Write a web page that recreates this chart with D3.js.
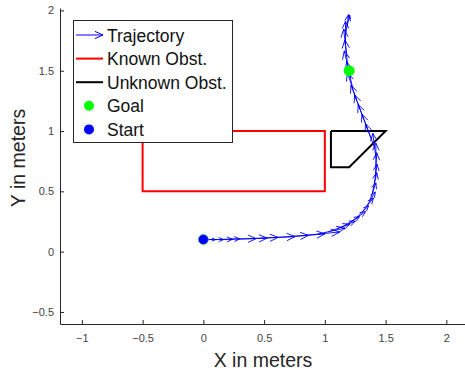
<!DOCTYPE html>
<html>
<head>
<meta charset="utf-8">
<script src="https://cdn.jsdelivr.net/npm/d3@7"></script>
<style>
  body { margin: 0; background: #fff; }
  text { font-family: "Liberation Sans", Arial, sans-serif; }
</style>
</head>
<body>
<svg id="chart"></svg>
<script>
// trajectory samples (meters)
const trajX = [0, 0.04, 0.09, 0.15, 0.21, 0.3, 0.39, 0.48, 0.59, 0.7, 0.82, 0.94,
               1.03, 1.1, 1.16, 1.21, 1.26, 1.3, 1.34, 1.37, 1.39, 1.405, 1.415, 1.42,
               1.42, 1.41, 1.38, 1.35, 1.32, 1.29, 1.26, 1.23, 1.21, 1.19, 1.18, 1.17,
               1.17, 1.18, 1.19];
const trajY = [0.1, 0.1, 0.1, 0.101, 0.103, 0.105, 0.108, 0.112, 0.117, 0.124, 0.133, 0.145,
               0.165, 0.19, 0.215, 0.245, 0.28, 0.32, 0.37, 0.42, 0.48, 0.55, 0.62, 0.7,
               0.78, 0.86, 0.94, 1.02, 1.1, 1.18, 1.26, 1.35, 1.44, 1.53, 1.62, 1.71,
               1.79, 1.86, 1.9];

const knownX = [-0.5, 1, 1, -0.5, -0.5];
const knownY = [1, 1, 0.5, 0.5, 1];
const unknownX = [1.05, 1.5, 1.2, 1.05, 1.05];
const unknownY = [1, 1, 0.7, 0.7, 1];

const goal = [1.2, 1.5];
const start = [0, 0.1];

const xTicks = [-1, -0.5, 0, 0.5, 1, 1.5, 2];
const yTicks = [-0.5, 0, 0.5, 1, 1.5, 2];
const legendLabels = ["Trajectory", "Known Obst.", "Unknown Obst.", "Goal", "Start"];

const w = 465, h = 373;
const svg = d3.select("#chart").attr("width", w).attr("height", h);

const x = d3.scaleLinear().domain([-1.18, 2.17]).range([60, 467]);
const y = d3.scaleLinear().domain([-0.6, 2.02]).range([324, 8]);

const axisColor = "#262626";

// axes (MATLAB style, ticks pointing inward)
const gx = svg.append("g")
              .attr("transform", "translate(0," + y(-0.6) + ")")
              .call(d3.axisBottom(x).tickValues(xTicks).tickSizeInner(-4).tickSizeOuter(0)
                      .tickPadding(10).tickFormat(d3.format("")));
const gy = svg.append("g")
              .attr("transform", "translate(" + x(-1.18) + ",0)")
              .call(d3.axisLeft(y).tickValues(yTicks).tickSizeInner(-4).tickSizeOuter(0)
                      .tickPadding(6).tickFormat(d3.format("")));
[gx, gy].forEach(g => {
  g.select(".domain").attr("stroke", axisColor);
  g.selectAll(".tick line").attr("stroke", axisColor);
  g.selectAll(".tick text")
   .attr("fill", "#444")
   .style("font-size", "11px")
   .style("font-family", "'Liberation Sans', Arial, sans-serif");
});

svg.append("text")
   .attr("x", 263).attr("y", 367)
   .attr("text-anchor", "middle")
   .attr("fill", axisColor)
   .style("font-size", "19.5px")
   .text("X in meters");

svg.append("text")
   .attr("transform", "translate(25,158) rotate(-90)")
   .attr("text-anchor", "middle")
   .attr("fill", axisColor)
   .style("font-size", "19.5px")
   .text("Y in meters");

const line = d3.line().x(d => x(d[0])).y(d => y(d[1]));

// obstacles
svg.append("path")
   .attr("d", line(d3.zip(knownX, knownY)))
   .attr("fill", "none")
   .attr("stroke", "#ff0000")
   .attr("stroke-width", 2);

svg.append("path")
   .attr("d", line(d3.zip(unknownX, unknownY)))
   .attr("fill", "none")
   .attr("stroke", "#000")
   .attr("stroke-width", 2)
   .attr("stroke-linejoin", "miter");

// arrow path helper, pixel coords
function arrowPath(x0, y0, x1, y1, maxHead) {
  const dx = x1 - x0, dy = y1 - y0;
  const len = Math.sqrt(dx * dx + dy * dy);
  if (len === 0) return "";
  const hl = Math.min(len * 0.33, maxHead);
  const a = Math.atan2(dy, dx);
  const sp = 0.42;
  const ax = x1 - hl * Math.cos(a - sp), ay = y1 - hl * Math.sin(a - sp);
  const bx = x1 - hl * Math.cos(a + sp), by = y1 - hl * Math.sin(a + sp);
  return "M" + x0 + "," + y0 + "L" + x1 + "," + y1 +
         "M" + ax + "," + ay + "L" + x1 + "," + y1 + "L" + bx + "," + by;
}

// quiver: one arrow per sample, pointing along the motion
const k = 2.5;
const arrows = d3.range(trajX.length - 1).map(i => {
  const x0 = trajX[i], y0 = trajY[i];
  const x1 = x0 + k * (trajX[i + 1] - x0), y1 = y0 + k * (trajY[i + 1] - y0);
  return arrowPath(x(x0), y(y0), x(x1), y(y1), 9);
});

svg.append("g")
   .selectAll("path")
   .data(arrows)
   .enter()
   .append("path")
   .attr("d", d => d)
   .attr("fill", "none")
   .attr("stroke", "#0000ff")
   .attr("stroke-width", 0.9);

// markers
svg.append("circle")
   .attr("cx", x(goal[0])).attr("cy", y(goal[1])).attr("r", 5.5)
   .attr("fill", "#00ff00");
svg.append("circle")
   .attr("cx", x(start[0])).attr("cy", y(start[1])).attr("r", 5)
   .attr("fill", "#0000ff")
   .attr("stroke", "#33cc55").attr("stroke-width", 0.6);

// legend
const lg = svg.append("g").attr("transform", "translate(73,20)");
lg.append("rect")
  .attr("x", 0.5).attr("y", 0.5)
  .attr("width", 159).attr("height", 122)
  .attr("fill", "#fff")
  .attr("stroke", axisColor)
  .attr("stroke-width", 1);

const rowY = i => 15 + i * 23.6;

lg.append("path")
  .attr("d", arrowPath(3, rowY(0), 30, rowY(0), 9))
  .attr("fill", "none").attr("stroke", "#0000ff").attr("stroke-width", 1);
lg.append("line")
  .attr("x1", 3).attr("x2", 30).attr("y1", rowY(1)).attr("y2", rowY(1))
  .attr("stroke", "#ff0000").attr("stroke-width", 2);
lg.append("line")
  .attr("x1", 3).attr("x2", 30).attr("y1", rowY(2)).attr("y2", rowY(2))
  .attr("stroke", "#000").attr("stroke-width", 2);
lg.append("circle")
  .attr("cx", 16).attr("cy", rowY(3)).attr("r", 5).attr("fill", "#00ff00");
lg.append("circle")
  .attr("cx", 16).attr("cy", rowY(4)).attr("r", 5).attr("fill", "#0000ff");

lg.selectAll("text.lbl")
  .data(legendLabels)
  .enter()
  .append("text")
  .attr("class", "lbl")
  .attr("x", 34)
  .attr("y", (d, i) => rowY(i) + 6.5)
  .attr("fill", "#111")
  .style("font-size", "17.5px")
  .text(d => d);
</script>
</body>
</html>
